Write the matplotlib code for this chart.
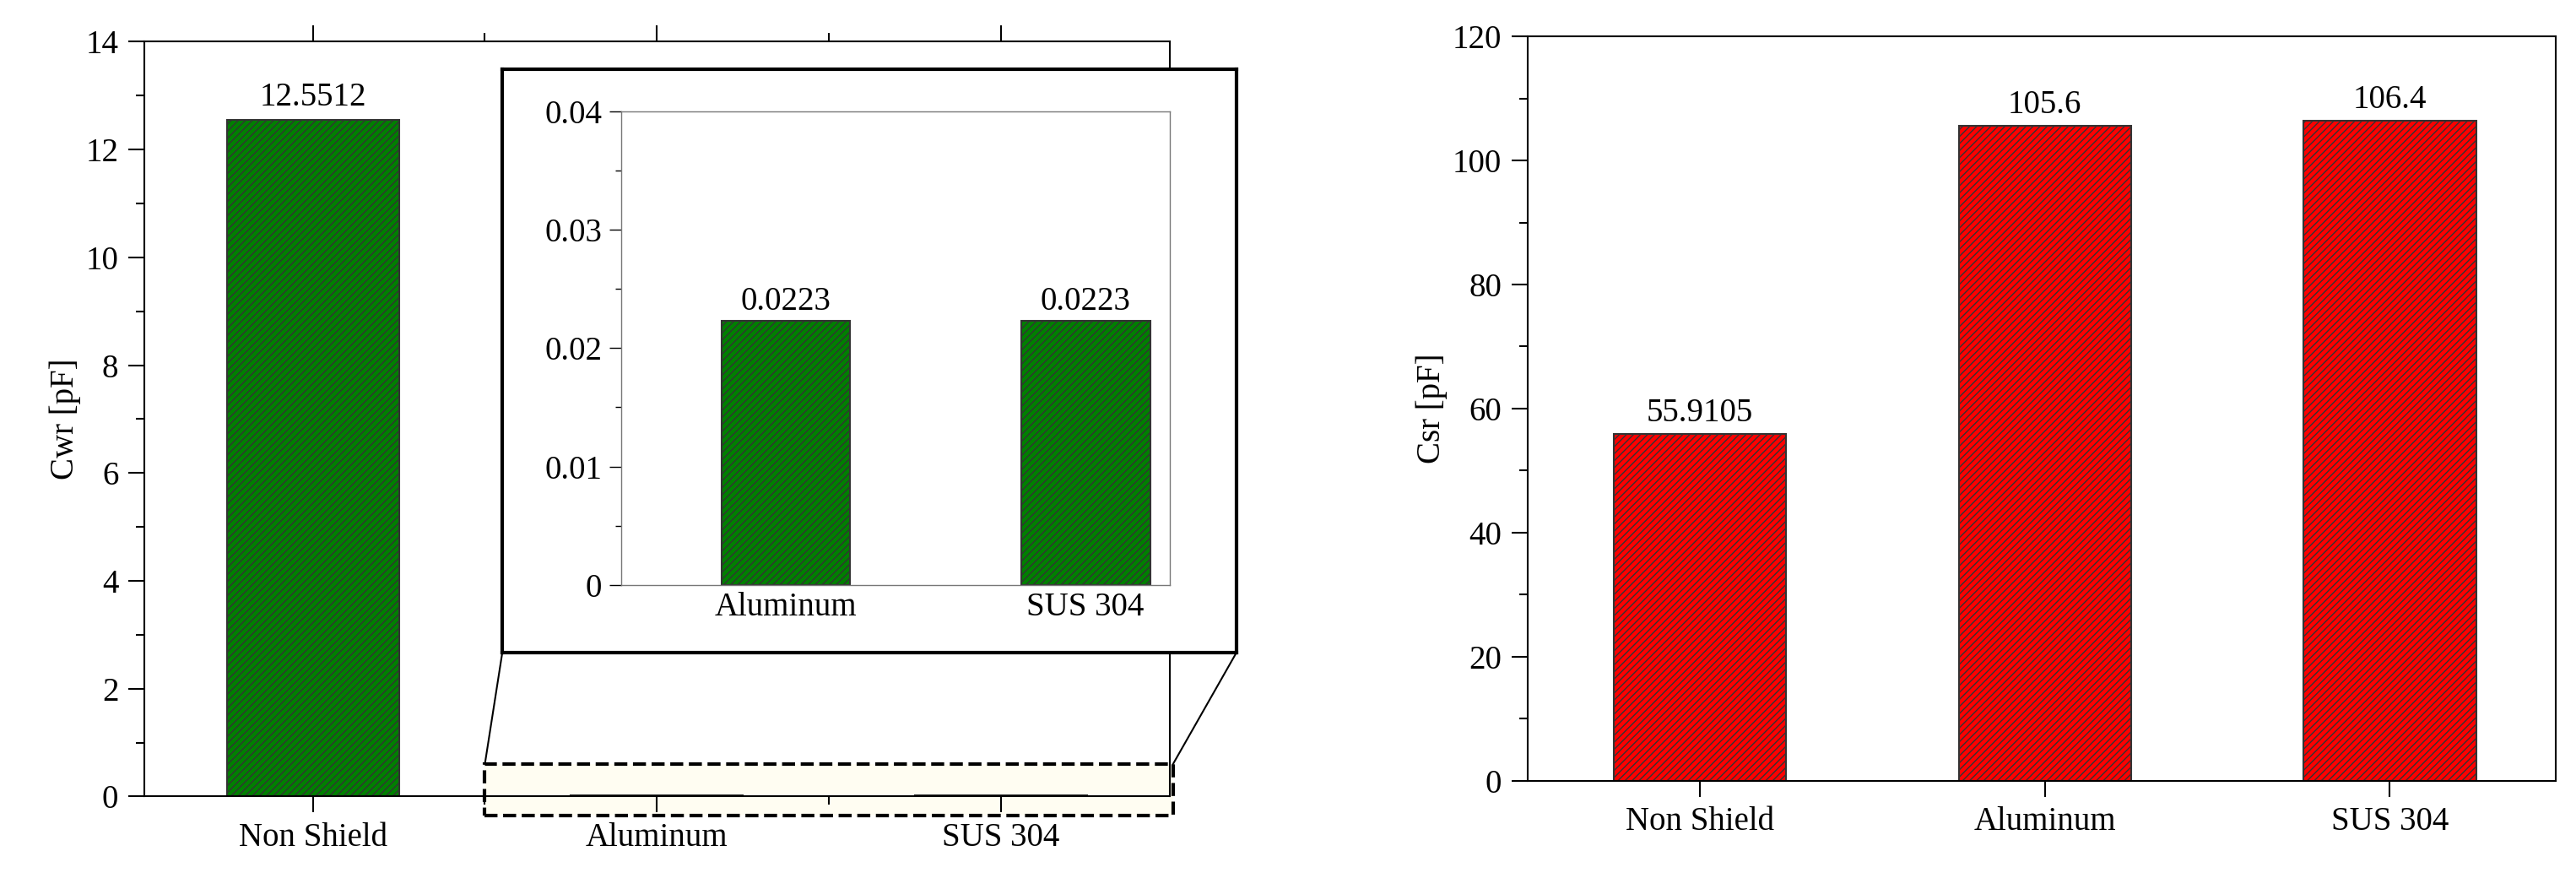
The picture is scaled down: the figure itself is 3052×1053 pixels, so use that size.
import numpy as np
import matplotlib.pyplot as plt
from matplotlib.patches import Rectangle, ConnectionPatch

plt.rcParams['font.family'] = ['Liberation Serif', 'DejaVu Serif']
plt.rcParams['font.size'] = 28
plt.rcParams['hatch.linewidth'] = 1.0

categories = ['Non Shield', 'Aluminum', 'SUS 304']
cwr = [12.5512, 0.0223, 0.0223]
cwr_labels = ['12.5512', '0.0223', '0.0223']
csr = [55.9105, 105.6, 106.4]
csr_labels = ['55.9105', '105.6', '106.4']

fig = plt.figure(figsize=(30.52, 10.53), dpi=100)

# left panel: Cwr
ax1 = fig.add_axes([0.056, 0.104, 0.398, 0.849])
x = np.arange(len(categories))
plt.rcParams['hatch.color'] = '#003300'
ax1.bar(x, cwr, width=0.5, color='green', edgecolor='#333333', hatch='////', linewidth=1.5)
ax1.text(0, cwr[0] + 0.12, cwr_labels[0], ha='center', va='bottom')
ax1.set_xlim(-0.49, 2.49)
ax1.set_ylim(0, 14)
ax1.set_xticks(x)
ax1.set_xticklabels(categories)
ax1.set_xticks([0.5, 1.5], minor=True)
ax1.set_yticks(np.arange(0, 15, 2))
ax1.set_yticks(np.arange(1, 14, 2), minor=True)
ax1.set_ylabel('Cwr [pF]')
ax1.tick_params(which='major', length=14, width=1.5, pad=8)
ax1.tick_params(which='minor', length=7, width=1.5)
ax1.tick_params(axis='x', which='both', top=True)
for s in ax1.spines.values():
    s.set_linewidth(1.5)

# zoom region on main axis
zoom_box = Rectangle((0.5, -0.36), 2.0, 0.96, facecolor='#fffdf2', edgecolor='black',
                     linestyle='--', linewidth=3, clip_on=False, zorder=0.5)
ax1.add_patch(zoom_box)

# inset frame
frame = fig.add_axes([0.195, 0.266, 0.285, 0.656])
frame.set_xticks([])
frame.set_yticks([])
for s in frame.spines.values():
    s.set_linewidth(3)

ax_in = fig.add_axes([0.241, 0.342, 0.213, 0.533])
ax_in.bar(x[:2], cwr[1:], width=0.43, color='green', edgecolor='#333333', hatch='////', linewidth=1.5)
for i in range(2):
    ax_in.text(i, cwr[i + 1] + 0.0003, cwr_labels[i + 1], ha='center', va='bottom')
ax_in.set_xlim(-0.55, 1.28)
ax_in.set_ylim(0, 0.04)
ax_in.set_xticks(x[:2])
ax_in.set_xticklabels(categories[1:])
ax_in.set_yticks([0, 0.01, 0.02, 0.03, 0.04])
ax_in.set_yticklabels(['0', '0.01', '0.02', '0.03', '0.04'])
ax_in.set_yticks(np.arange(0.005, 0.04, 0.01), minor=True)
ax_in.tick_params(which='major', length=10, width=1, pad=6)
ax_in.tick_params(which='minor', length=5, width=1)
ax_in.tick_params(axis='x', length=0)
for s in ax_in.spines.values():
    s.set_linewidth(1)
    s.set_color('#777777')

for xa, ya in [(0.0, 0.0), (1.0, 0.0)]:
    con = ConnectionPatch(xyA=(xa, ya), coordsA=frame.transAxes,
                          xyB=(0.5 + 2.0 * xa, 0.6), coordsB=ax1.transData,
                          color='black', linewidth=1.5)
    fig.add_artist(con)

# right panel: Csr
ax2 = fig.add_axes([0.593, 0.122, 0.399, 0.837])
plt.rcParams['hatch.color'] = '#660000'
ax2.bar(x, csr, width=0.5, color='red', edgecolor='#333333', hatch='////', linewidth=1.5)
for i in range(len(csr)):
    ax2.text(i, csr[i] + 0.8, csr_labels[i], ha='center', va='bottom')
ax2.set_xlim(-0.5, 2.48)
ax2.set_ylim(0, 120)
ax2.set_xticks(x)
ax2.set_xticklabels(categories)
ax2.set_yticks(np.arange(0, 121, 20))
ax2.set_yticks(np.arange(10, 120, 20), minor=True)
ax2.set_ylabel('Csr [pF]')
ax2.tick_params(which='major', length=14, width=1.5, pad=8)
ax2.tick_params(which='minor', length=7, width=1.5)
ax2.tick_params(axis='x', which='minor', bottom=False)
for s in ax2.spines.values():
    s.set_linewidth(1.5)

fig.savefig('out.png', dpi=100)
